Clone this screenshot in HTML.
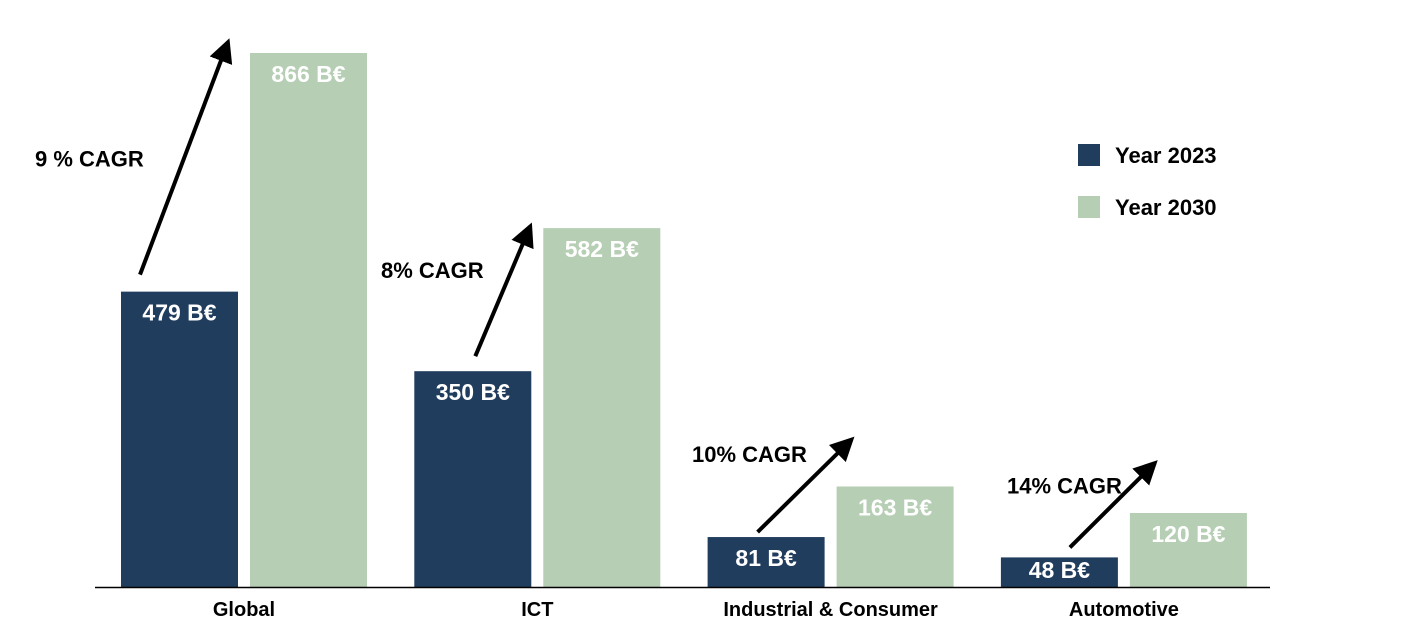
<!DOCTYPE html>
<html><head><meta charset="utf-8"><style>
html,body{margin:0;padding:0;background:#fff;}
svg{display:block;font-family:"Liberation Sans",Arial,sans-serif;font-weight:bold;}
</style></head><body>
<svg id="chart" width="1415" height="636" viewBox="0 0 1415 636">
<defs><marker id="ah" markerWidth="6" markerHeight="6" refX="5" refY="3" orient="auto" markerUnits="strokeWidth"><path d="M0,0 L6,3 L0,6 z" fill="#000"/></marker></defs>
<g id="bars"></g>
<line x1="95" y1="587.5" x2="1270" y2="587.5" stroke="#000" stroke-width="1.5"/>
<g>
<rect x="1078" y="144" width="22" height="22" fill="#213d5e"/>
<text x="1115" y="163" font-size="22" fill="#000">Year 2023</text>
<rect x="1078" y="196" width="22" height="22" fill="#b6ceb4"/>
<text x="1115" y="215" font-size="22" fill="#000">Year 2030</text>
</g>
</svg>
<script>
const categories=["Global","ICT","Industrial & Consumer","Automotive"];
const values2023=[479,350,81,48];
const values2030=[866,582,163,120];
const cagrLabels=["9 % CAGR","8% CAGR","10% CAGR","14% CAGR"];
const ns="http://www.w3.org/2000/svg";
const g=document.getElementById("bars");
const base=587, k=534/866;
const yv=v=>base-v*k;
const groupX=i=>121+i*293.3;
const bw=117;
function mk(t,a){const e=document.createElementNS(ns,t);for(const n in a)e.setAttribute(n,a[n]);g.appendChild(e);return e;}
const lblX=[35,381,692,1007];
const lblDY=[-125,-93,-75,-64];
const arSX=[19,61,50,69], arSY=[-17,-15,-5,-10];
const arEX=[-22,-13,15,25], arEY=[-11,-2,-47,-50];
const labY=v=>Math.min(yv(v)+29,base-9);
categories.forEach((c,i)=>{
 const x0=groupX(i), x1=x0+129;
 const r1=mk("rect",{x:x0,y:yv(values2023[i]),width:bw,height:values2023[i]*k,fill:"#213d5e"});
 
 
 const r2=mk("rect",{x:x1,y:yv(values2030[i]),width:bw,height:values2030[i]*k,fill:"#b6ceb4"});
 
 
 const t1=mk("text",{x:x0+bw/2,y:labY(values2023[i]),"text-anchor":"middle","font-size":23,fill:"#fff"});
 t1.textContent=values2023[i]+" B€";
 
 
 const t2=mk("text",{x:x1+bw/2,y:labY(values2030[i]),"text-anchor":"middle","font-size":23,fill:"#fff"});
 t2.textContent=values2030[i]+" B€";
 
 
 const cx=x0+123;
 const ct=mk("text",{x:cx,y:616,"text-anchor":"middle","font-size":20,fill:"#000"});
 ct.textContent=c;
 
 
 const ar=mk("line",{x1:x0+arSX[i],y1:yv(values2023[i])+arSY[i],x2:x1+arEX[i],y2:yv(values2030[i])+arEY[i],stroke:"#000","stroke-width":4,"marker-end":"url(#ah)"});
 
 
 const lt=mk("text",{x:lblX[i],y:yv(values2023[i])+lblDY[i],"font-size":22,fill:"#000"});
 lt.textContent=cagrLabels[i];
 
 
});
</script>
</body></html>
